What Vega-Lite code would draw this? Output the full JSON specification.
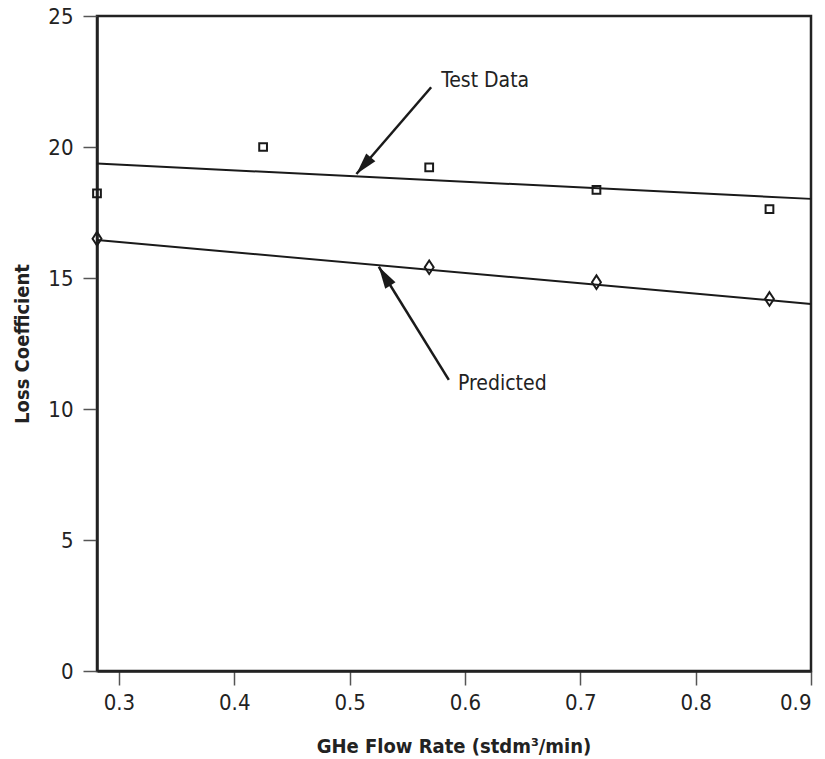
{
  "$schema": "https://vega.github.io/schema/vega-lite/v6.json",
  "width": 714,
  "height": 655,
  "autosize": {"type": "none"},
  "padding": {"left": 97, "top": 16, "right": 14, "bottom": 88},
  "background": "white",
  "config": {
    "font": "Liberation Sans Narrow, DejaVu Sans Condensed, Roboto, sans-serif",
    "view": {"stroke": "#222", "strokeWidth": 2.5},
    "axis": {
      "domainColor": "#222", "domainWidth": 2.5,
      "tickColor": "#555", "tickWidth": 1.5, "tickSize": 14,
      "labelFont": "Liberation Sans Narrow, DejaVu Sans Condensed, Roboto, sans-serif", "labelFontSize": 22, "labelColor": "#222",
      "titleFont": "Liberation Sans Narrow, DejaVu Sans Condensed, Roboto, sans-serif", "titleFontSize": 20, "titleFontWeight": "bold", "titleColor": "#222",
      "grid": false
    }
  },
  "datasets": {
    "lines": [
      {"series": "Test Data", "x": 0.281, "y": 19.37},
      {"series": "Test Data", "x": 0.9, "y": 18.02},
      {"series": "Predicted", "x": 0.281, "y": 16.45},
      {"series": "Predicted", "x": 0.9, "y": 14.01}
    ],
    "points": [
      {"series": "Test Data", "x": 0.281, "y": 18.23},
      {"series": "Test Data", "x": 0.425, "y": 20.0},
      {"series": "Test Data", "x": 0.569, "y": 19.22},
      {"series": "Test Data", "x": 0.714, "y": 18.36},
      {"series": "Test Data", "x": 0.864, "y": 17.63},
      {"series": "Predicted", "x": 0.281, "y": 16.5},
      {"series": "Predicted", "x": 0.569, "y": 15.41},
      {"series": "Predicted", "x": 0.714, "y": 14.84},
      {"series": "Predicted", "x": 0.864, "y": 14.2}
    ],
    "arrows": [
      {"label": "Test Data", "x0": 0.5707, "y0": 22.28, "x1": 0.5059, "y1": 18.97, "tx": 0.5794, "ty": 22.3},
      {"label": "Predicted", "x0": 0.586, "y0": 11.11, "x1": 0.5253, "y1": 15.43, "tx": 0.594, "ty": 10.73}
    ]
  },
  "layer": [
    {
      "data": {"name": "lines"},
      "mark": {"type": "line", "color": "#1a1a1a", "strokeWidth": 2},
      "encoding": {
        "x": {"field": "x", "type": "quantitative",
              "scale": {"domain": [0.281, 0.9], "nice": false, "zero": false},
              "axis": {"values": [0.3, 0.4, 0.5, 0.6, 0.7, 0.8, 0.9], "format": ".1f",
                       "labelPadding": 7, "title": "GHe Flow Rate (stdm³/min)",
                       "titleX": 356.5, "titleY": 81, "titleBaseline": "alphabetic", "titleAlign": "center"}},
        "y": {"field": "y", "type": "quantitative",
              "scale": {"domain": [0, 25], "nice": false},
              "axis": {"values": [0, 5, 10, 15, 20, 25], "labelPadding": 10,
                       "title": "Loss Coefficient", "titleX": -75, "titleY": 327.5,
                       "titleBaseline": "middle", "titleAlign": "center", "titleAngle": -90}},
        "detail": {"field": "series"}
      }
    },
    {
      "data": {"name": "points"},
      "mark": {"type": "point", "filled": false, "strokeWidth": 2, "size": 60, "color": "#1a1a1a", "opacity": 1},
      "encoding": {
        "x": {"field": "x", "type": "quantitative"},
        "y": {"field": "y", "type": "quantitative"},
        "shape": {"field": "series", "type": "nominal",
                  "scale": {"domain": ["Test Data", "Predicted"], "range": ["square", "M0,-1.75L1.15,0L0,1.75L-1.15,0Z"]},
                  "legend": null}
      }
    },
    {
      "data": {"name": "arrows"},
      "mark": {"type": "rule", "color": "#1a1a1a", "strokeWidth": 2.5},
      "encoding": {
        "x": {"field": "x0", "type": "quantitative"},
        "y": {"field": "y0", "type": "quantitative"},
        "x2": {"field": "x1"},
        "y2": {"field": "y1"}
      }
    },
    {
      "data": {"name": "arrows"},
      "transform": [{"filter": "datum.label === 'Test Data'"}],
      "mark": {"type": "point", "shape": "M0,0L0.55,2L-0.55,2Z", "size": 484, "filled": true, "color": "#1a1a1a", "opacity": 1, "angle": 220.8},
      "encoding": {
        "x": {"field": "x1", "type": "quantitative"},
        "y": {"field": "y1", "type": "quantitative"}
      }
    },
    {
      "data": {"name": "arrows"},
      "transform": [{"filter": "datum.label === 'Predicted'"}],
      "mark": {"type": "point", "shape": "M0,0L0.55,2L-0.55,2Z", "size": 484, "filled": true, "color": "#1a1a1a", "opacity": 1, "angle": 328.3},
      "encoding": {
        "x": {"field": "x1", "type": "quantitative"},
        "y": {"field": "y1", "type": "quantitative"}
      }
    },
    {
      "data": {"name": "arrows"},
      "mark": {"type": "text", "align": "left", "baseline": "alphabetic", "fontSize": 21, "color": "#222"},
      "encoding": {
        "x": {"field": "tx", "type": "quantitative"},
        "y": {"field": "ty", "type": "quantitative"},
        "text": {"field": "label"}
      }
    }
  ]
}
